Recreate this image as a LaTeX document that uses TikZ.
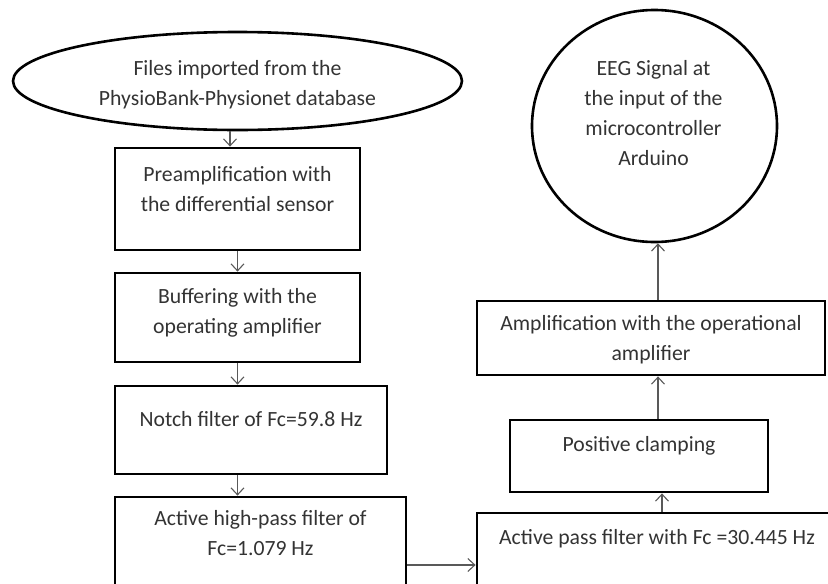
\documentclass[tikz,border=0pt]{standalone}
\usepackage{fontspec}
\setmainfont{Carlito}
\usetikzlibrary{arrows.meta, positioning, shapes.geometric}

\begin{document}
\begin{tikzpicture}[x=1pt, y=-1pt, >={Straight Barb[length=7pt, width=13pt]},
    stage/.style={draw, line width=2.8pt, inner sep=0pt},
    blob/.style={ellipse, draw, line width=2.6pt, inner sep=0pt},
    txt/.style={align=center, inner sep=0pt, text=black!80,
      font=\fontsize{21.7}{30}\selectfont},
    flow/.style={->, line width=1.1pt, draw=black!65}]
    \useasboundingbox (0,0) rectangle (828,584);
    \clip (0,0) rectangle (828,584);

    % Left column
    \node[blob, minimum width=449pt, minimum height=98pt] (files) at (237.5,81) {};
    \node[txt, below=30pt of files.north] (filesT) {Files imported from the\\PhysioBank-Physionet database};

    \node[stage, minimum width=245pt, minimum height=102pt] (pre) at (237.5,199) {};
    \node[txt, below=20pt of pre.north] (preT) {Preamplification with\\the differential sensor};

    \node[stage, minimum width=245pt, minimum height=89pt] (buf) at (237.5,317.5) {};
    \node[txt, below=17pt of buf.north] (bufT) {Buffering with the\\operating amplifier};

    \node[stage, minimum width=272pt, minimum height=88pt] (notch) at (251,430) {};
    \node[txt, below=27pt of notch.north] (notchT) {Notch filter of Fc=59.8 Hz};

    \node[stage, minimum width=291pt, minimum height=113pt] (hp) at (260.5,553.5) {};
    \node[txt, below=15pt of hp.north] (hpT) {Active high-pass filter of\\Fc=1.079 Hz};

    % Right column
    \node[stage, minimum width=366pt, minimum height=97pt] (apf) at (660,561.5) {};
    \node[txt, below=18pt of apf.north, xshift=-3pt] (apfT) {Active pass filter with Fc =30.445 Hz};

    \node[stage, minimum width=258pt, minimum height=72pt] (clamp) at (639,456) {};
    \node[txt, below=18pt of clamp.north] (clampT) {Positive clamping};

    \node[stage, minimum width=348pt, minimum height=74pt] (amp) at (651,338) {};
    \node[txt, below=16pt of amp.north] (ampT) {Amplification with the operational\\amplifier};

    \node[blob, minimum width=245pt, minimum height=232pt] (eeg) at (654.5,126) {};
    \node[txt, below=52pt of eeg.north, xshift=-1pt] (eegT) {EEG Signal at\\the input of the\\microcontroller\\Arduino};

    % Connectors
    \draw[flow] ([xshift=-7.5pt]files.south) -- ([xshift=-7.5pt]pre.north);
    \draw[flow] (pre.south) -- (buf.north);
    \draw[flow] (buf.south) -- (buf.south |- notch.north);
    \draw[flow] (buf.south |- notch.south) -- (buf.south |- hp.north);
    \draw[flow] ([yshift=-11.5pt]hp.east) -- ([yshift=-11.5pt]hp.east -| apf.west);
    \draw[flow] ([xshift=2pt]apf.north) -- ([xshift=2pt]apf.north |- clamp.south);
    \draw[flow] ([xshift=19pt]clamp.north) -- ([xshift=19pt]clamp.north |- amp.south);
    \draw[flow] ([xshift=7pt]amp.north) -- ([xshift=7pt]amp.north |- eeg.south);

\end{tikzpicture}
\end{document}
